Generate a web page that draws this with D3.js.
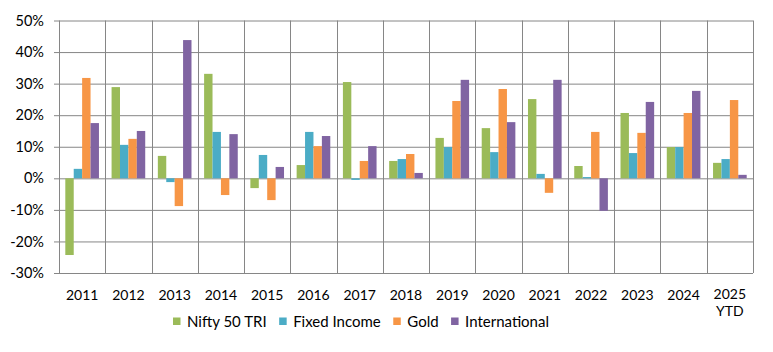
<!DOCTYPE html>
<html>
<head>
<meta charset="utf-8">
<script src="https://cdn.jsdelivr.net/npm/d3@7"></script>
<style>
  body { margin: 0; background: #fff; }
  text { font-family: Lato, "Open Sans", sans-serif; fill: #000; }
</style>
</head>
<body>
<div id="viz"></div>
<script>
// data

const years = ["2011", "2012", "2013", "2014", "2015", "2016", "2017", "2018",
               "2019", "2020", "2021", "2022", "2023", "2024", "2025 YTD"];
const seriesNames = ["Nifty 50 TRI", "Fixed Income", "Gold", "International"];
const nifty = [-24.3, 28.9, 7.1, 33.1, -3.1, 4.2, 30.5, 5.5, 12.8, 15.9, 25.1, 3.9, 20.7, 9.9, 4.9];
const fixedIncome = [3.0, 10.6, -1.2, 14.7, 7.4, 14.7, -0.5, 6.1, 9.9, 8.3, 1.4, 0.4, 8.0, 9.9, 6.1];
const gold = [31.8, 12.5, -8.8, -5.3, -6.9, 10.2, 5.5, 7.7, 24.5, 28.3, -4.6, 14.7, 14.4, 20.7, 24.8];
const international = [17.5, 15.0, 43.8, 14.0, 3.6, 13.4, 10.2, 1.7, 31.2, 17.8, 31.2, -10.3, 24.2, 27.7, 1.1];
const yTicks = [-30, -20, -10, 0, 10, 20, 30, 40, 50];
const colors = ["#9bbb59", "#4bacc6", "#f79646", "#8064a2"];

function draw() {

  const allSeries = [nifty, fixedIncome, gold, international];
  const data = years.map((y, i) => ({
    year: y,
    values: seriesNames.map((s, j) => ({ key: s, value: allSeries[j][i] }))
  }));

  // dimensions

  const dms = {
    width: 773,
    height: 352,
    margins: { top: 20.5, left: 59, right: 20, bottom: 79 }
  };
  dms.innerWidth = dms.width - dms.margins.left - dms.margins.right;
  dms.innerHeight = dms.height - dms.margins.top - dms.margins.bottom;

  const svg = d3.select("#viz")
                  .append("svg")
                    .attr("width", dms.width)
                    .attr("height", dms.height);

  svg.append("rect")
      .attr("width", dms.width)
      .attr("height", dms.height)
      .attr("fill", "#fff");

  const g = svg.append("g")
                 .attr("transform", `translate(${dms.margins.left},${dms.margins.top})`);

  // scales

  const x0 = d3.scaleBand()
                 .domain(years)
                 .range([0, dms.innerWidth])
                 .padding(0);

  const x1 = d3.scaleBand()
                 .domain(seriesNames)
                 .range([0, x0.bandwidth()])
                 .paddingInner(0)
                 .paddingOuter(0.75);

  const y = d3.scaleLinear()
                .domain([-30, 50])
                .range([dms.innerHeight, 0]);

  const color = d3.scaleOrdinal()
                    .domain(seriesNames)
                    .range(colors);

  const gridColor = "#868686";

  // gridlines

  const yAxis = d3.axisLeft(y)
                    .tickValues(yTicks)
                    .tickSize(5)
                    .tickPadding(10)
                    .tickFormat(d => d + "%");

  const yAxisG = g.append("g").call(yAxis);
  yAxisG.select(".domain").remove();
  yAxisG.selectAll(".tick line")
          .attr("x1", -5)
          .attr("x2", dms.innerWidth)
          .attr("stroke", gridColor);
  yAxisG.selectAll(".tick text")
          .style("font-size", "14.5px");

  const vLines = years.map(d => x0(d)).concat([dms.innerWidth]);
  g.append("g")
    .selectAll("line")
    .data(vLines)
    .join("line")
      .attr("x1", d => Math.round(d) + 0.5)
      .attr("x2", d => Math.round(d) + 0.5)
      .attr("y1", 0)
      .attr("y2", dms.innerHeight)
      .attr("stroke", gridColor);

  // bars

  const groups = g.append("g")
                    .selectAll("g")
                    .data(data)
                    .join("g")
                      .attr("transform", d => `translate(${x0(d.year)},0)`);

  groups.selectAll("rect")
          .data(d => d.values)
          .join("rect")
            .attr("x", d => x1(d.key))
            .attr("width", x1.bandwidth())
            .attr("y", d => y(Math.max(0, d.value)))
            .attr("height", d => Math.abs(y(d.value) - y(0)))
            .attr("fill", d => color(d.key));

  // x labels (one text per line)

  const xLines = [];
  years.forEach(d => {
    const parts = d.split(" ");
    parts.forEach((p, i) => xLines.push({ year: d, part: p, line: i, count: parts.length }));
  });

  g.append("g")
    .attr("transform", `translate(0,${dms.innerHeight})`)
    .selectAll("text")
    .data(xLines)
    .join("text")
      .attr("x", d => x0(d.year) + x0.bandwidth() / 2)
      .attr("y", d => d.count === 1 ? 26.5 : 25.75 + d.line * 16.75)
      .attr("text-anchor", "middle")
      .style("font-size", "14px")
      .text(d => d.part);

  // legend

  const legend = svg.append("g")
                      .attr("transform", "translate(173,317.5)");

  let offset = 0;
  seriesNames.forEach(s => {
    const item = legend.append("g")
                         .attr("transform", `translate(${offset},0)`);
    item.append("rect")
          .attr("width", 7.5)
          .attr("height", 7.5)
          .attr("fill", color(s));
    const t = item.append("text")
                    .attr("x", 14)
                    .attr("y", 9)
                    .style("font-size", "15px")
                    .text(s);
    offset += 14 + t.node().getComputedTextLength() + 12.5;
  });
}

draw();
</script>
</body>
</html>
